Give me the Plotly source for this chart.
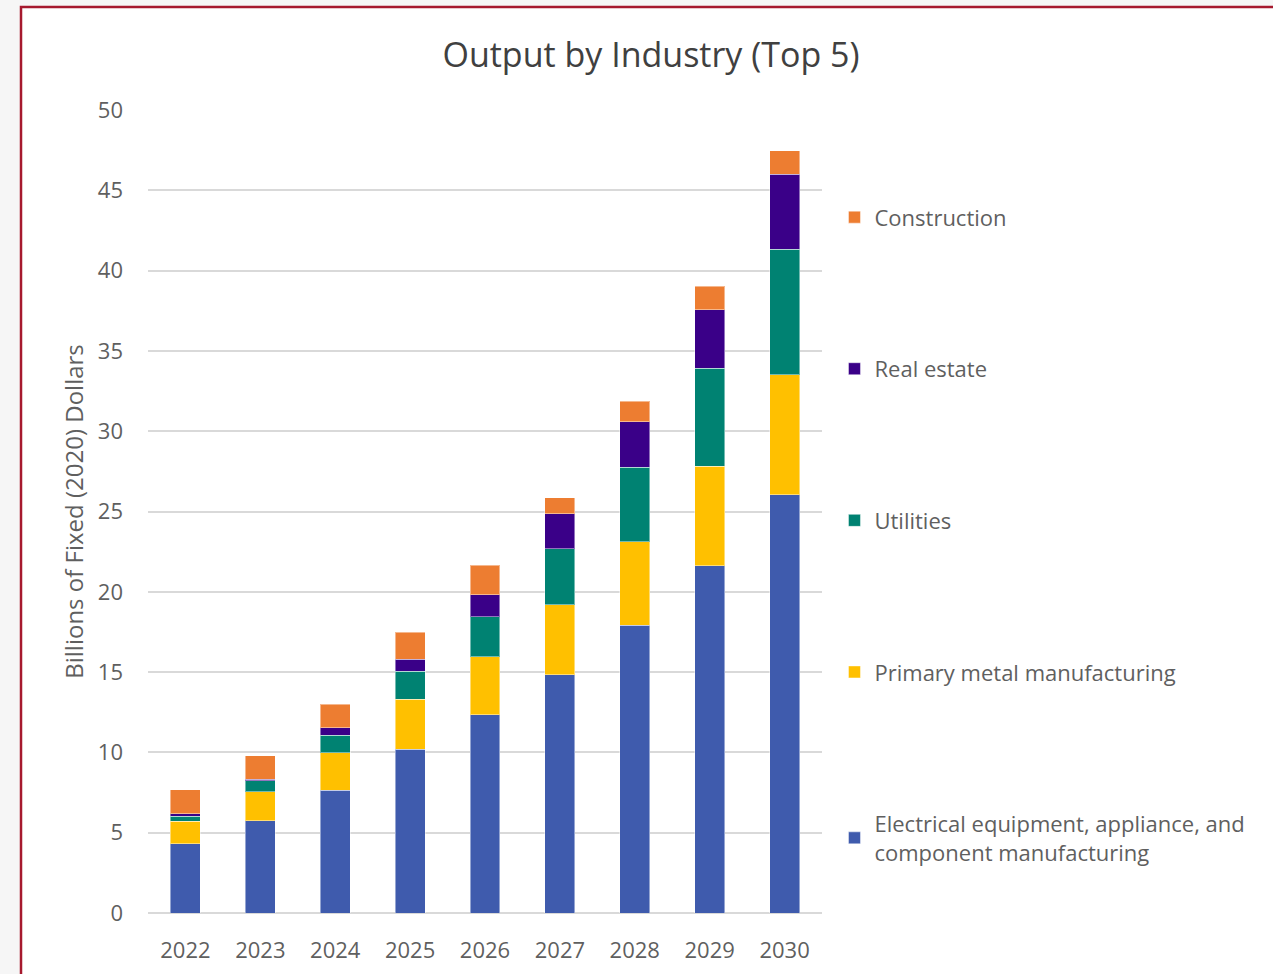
import plotly.graph_objects as go

years = ["2022", "2023", "2024", "2025", "2026", "2027", "2028", "2029", "2030"]

electrical = [4.30, 5.74, 7.64, 10.21, 12.33, 14.84, 17.91, 21.63, 26.03]
primary_metal = [1.42, 1.81, 2.34, 3.11, 3.63, 4.36, 5.21, 6.20, 7.47]
utilities = [0.31, 0.67, 1.10, 1.74, 2.49, 3.48, 4.65, 6.08, 7.84]
real_estate = [0.14, 0.12, 0.44, 0.75, 1.36, 2.18, 2.82, 3.66, 4.66]
construction = [1.49, 1.45, 1.49, 1.68, 1.85, 1.00, 1.29, 1.45, 1.45]

series = [
    ("Electrical equipment, appliance, and<br>component manufacturing", electrical, "#3F5BAD"),
    ("Primary metal manufacturing", primary_metal, "#FFC000"),
    ("Utilities", utilities, "#008272"),
    ("Real estate", real_estate, "#3A0088"),
    ("Construction", construction, "#ED7D31"),
]

FONT = "Open Sans"
TEXT = "#5f5f5f"

fig = go.Figure()
for i, (name, vals, color) in enumerate(series):
    fig.add_trace(go.Bar(
        x=years, y=vals, name=name, legendgroup=f"g{i}",
        legendrank=100 - i,  # top of the stack listed first
        marker=dict(color=color, line=dict(color="rgba(255,255,255,0.45)", width=1)),
    ))

fig.update_layout(
    width=1273, height=974,
    barmode="stack", bargap=0.6,
    paper_bgcolor="#f6f6f6", plot_bgcolor="white",
    margin=dict(l=148, r=451, t=110, b=61, autoexpand=False),
    font=dict(family=FONT, color=TEXT, size=22),
    title=dict(text="Output by Industry (Top 5)", x=651 / 1273, xanchor="center",
               y=1 - 55 / 974, yanchor="middle",
               font=dict(family=FONT, size=34, color="#404040")),
    xaxis=dict(showgrid=False, showline=False, ticks="", ticklabelstandoff=22,
               automargin=False, tickfont=dict(size=22, color=TEXT)),
    yaxis=dict(range=[0, 50], dtick=5, showgrid=True, gridcolor="#d9d9d9", gridwidth=1.5,
               zeroline=True, zerolinecolor="#d9d9d9", zerolinewidth=1.5,
               showline=False, ticks="", ticklabelstandoff=24, automargin=False,
               tickfont=dict(size=22, color=TEXT),
               title=dict(text="Billions of Fixed (2020) Dollars", standoff=7,
                          font=dict(size=24, color=TEXT))),
    legend=dict(traceorder="grouped", tracegroupgap=120,
                x=1.02 - 1 / 674, xanchor="left", y=0.885 + 6 / 803, yanchor="top",
                font=dict(size=22, color=TEXT), bgcolor="rgba(0,0,0,0)",
                itemwidth=30),
    shapes=[dict(type="rect", xref="paper", yref="paper", layer="below",
                 x0=(21 - 148) / 674, x1=1.9, y0=-0.2, y1=1 + 103 / 803,
                 fillcolor="white", line=dict(color="#A6192E", width=2.5))],
)

fig.write_html("out.html")
